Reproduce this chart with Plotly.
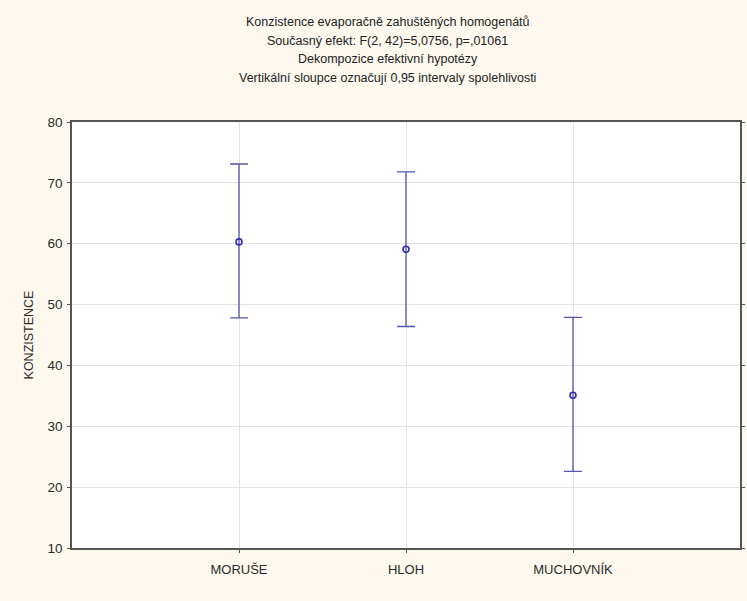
import plotly.graph_objects as go

categories = ["MORUŠE", "HLOH", "MUCHOVNÍK"]
means = [60.3, 59.1, 35.1]
lower = [47.8, 46.4, 22.6]
upper = [73.1, 71.8, 47.9]
y_ticks = [10, 20, 30, 40, 50, 60, 70, 80]
title_lines = [
    "Konzistence evaporačně zahuštěných homogenátů",
    "Současný efekt: F(2, 42)=5,0756, p=,01061",
    "Dekompozice efektivní hypotézy",
    "Vertikální sloupce označují 0,95 intervaly spolehlivosti",
]

xpos = list(range(len(categories)))
err_plus = [u - m for u, m in zip(upper, means)]
err_minus = [m - l for m, l in zip(means, lower)]

fig = go.Figure()
fig.add_trace(go.Scatter(
    x=xpos, y=means, mode="markers",
    marker=dict(symbol="circle-open", size=6, color="#2E2EA8", line=dict(width=1.6)),
    error_y=dict(type="data", symmetric=False, array=err_plus, arrayminus=err_minus,
                 color="#5555B5", thickness=1.3, width=9),
    showlegend=False,
))

font = "Liberation Sans, Arial, sans-serif"
for i, line in enumerate(title_lines):
    fig.add_annotation(
        text=line, xref="paper", yref="paper",
        x=(390 - 72) / (745 - 72), y=1 + (122 - (22 + i * 18.7)) / 426,
        xanchor="center", yanchor="middle", showarrow=False,
        font=dict(family=font, size=12.5, color="#222222"),
    )

fig.update_layout(
    width=747, height=601,
    margin=dict(l=72, r=2, t=122, b=53),
    paper_bgcolor="#FDF9EF",
    plot_bgcolor="#FFFFFF",
    font=dict(family=font, size=13, color="#2b2b2b"),
    xaxis=dict(
        range=[-1, 3], tickmode="array", tickvals=xpos, ticktext=categories,
        showgrid=True, gridcolor="#E2E2E2", gridwidth=1,
        showline=True, linecolor="#555555", linewidth=1.5, mirror=True,
        ticks="outside", ticklen=3, tickcolor="#555555", zeroline=False,
        tickfont=dict(size=13), ticklabelstandoff=6,
    ),
    yaxis=dict(
        range=[10, 80], tickmode="array", tickvals=y_ticks,
        showgrid=True, gridcolor="#E2E2E2", gridwidth=1,
        showline=True, linecolor="#555555", linewidth=1.5, mirror="ticks",
        ticks="outside", ticklen=3, tickcolor="#555555", zeroline=False,
        title=dict(text="KONZISTENCE", font=dict(size=12.5), standoff=11),
        tickfont=dict(size=13.5), ticklabelstandoff=2,
    ),
)

fig.write_html("out.html")
